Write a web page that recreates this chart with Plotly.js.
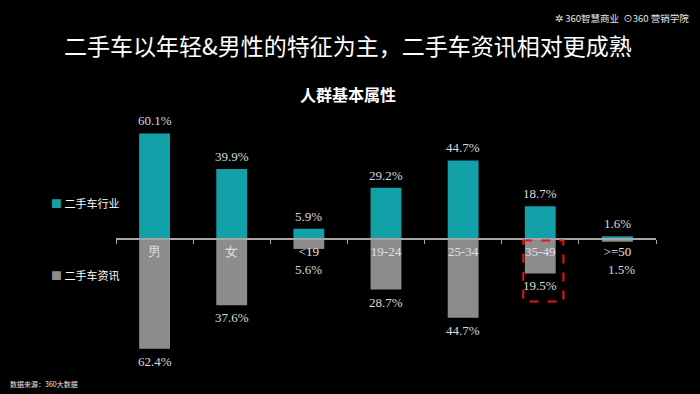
<!DOCTYPE html>
<html><head><meta charset="utf-8">
<script src="https://cdn.plot.ly/plotly-3.0.1.min.js"></script>
<style>html,body{margin:0;padding:0;background:#000;}</style>
</head><body>
<div id="chart" style="width:700px;height:394px;"></div>
<script>
const categories = ['男', '女', '<19', '19-24', '25-34', '35-49', '>=50'];
const industryValues = [60.1, 39.9, 5.9, 29.2, 44.7, 18.7, 1.6];
const infoValues = [62.4, 37.6, 5.6, 28.7, 44.7, 19.5, 1.5];
const seriesNames = ['二手车行业', '二手车资讯'];
const highlightCategory = '35-49';

const TEAL = '#12a0a9';
const GRAY = '#8c8c8c';
const SERIF = '"Liberation Serif", "DejaVu Serif", serif';
const CJK = '"Noto Sans CJK SC", "Noto Sans", sans-serif';

const yMin = -75, yMax = 70;

const traces = [
  {type: 'bar', name: seriesNames[0], x: categories, y: industryValues,
   marker: {color: TEAL}, width: 0.4, showlegend: false, hoverinfo: 'skip'},
  {type: 'bar', name: seriesNames[1], x: categories, y: infoValues.map(v => -v),
   marker: {color: GRAY}, width: 0.4, showlegend: false, hoverinfo: 'skip'}
];

const annotations = [];
categories.forEach((c, i) => {
  annotations.push({x: c, y: industryValues[i], xref: 'x', yref: 'y', text: industryValues[i].toFixed(1) + '%',
    showarrow: false, yanchor: 'bottom', yshift: 3, font: {family: SERIF, size: 13, color: '#d9d9d9'}});
  const v = infoValues[i];
  const small = v < 10;
  annotations.push({x: c, y: small ? 0 : -v, xref: 'x', yref: 'y', text: v.toFixed(1) + '%',
    showarrow: false, yanchor: 'top', yshift: small ? -21 : -3, xshift: (small && i === categories.length - 1) ? 4 : 0,
    font: {family: SERIF, size: 13, color: '#d9d9d9'}});
});

// legend-like labels
annotations.push({xref: 'paper', yref: 'paper', x: -0.125, y: 0.66, xanchor: 'left', yanchor: 'middle',
  text: '<span style="color:' + TEAL + '">■</span> ' + seriesNames[0], showarrow: false,
  font: {family: CJK, size: 11, color: '#ffffff'}});
annotations.push({xref: 'paper', yref: 'paper', x: -0.125, y: 0.375, xanchor: 'left', yanchor: 'middle',
  text: '<span style="color:' + GRAY + '">■</span> ' + seriesNames[1], showarrow: false,
  font: {family: CJK, size: 11, color: '#ffffff'}});

// headline texts
annotations.push({xref: 'paper', yref: 'paper', x: 0.43, y: 1.28, yanchor: 'middle',
  xanchor: 'center', text: '二手车以年轻&男性的特征为主，二手车资讯相对更成熟', showarrow: false,
  font: {family: CJK, size: 23, color: '#ffffff'}});
annotations.push({xref: 'paper', yref: 'paper', x: 0.43, y: 1.085, yanchor: 'middle',
  xanchor: 'center', text: '<b>人群基本属性</b>', showarrow: false,
  font: {family: CJK, size: 16, color: '#ffffff'}});
annotations.push({xref: 'paper', yref: 'paper', x: 1.065, y: 1.385, yanchor: 'middle', xanchor: 'right',
  text: '✲ 360智慧商业  ⊙360 营销学院', showarrow: false,
  font: {family: CJK, size: 9.5, color: '#e6e6e6'}});
annotations.push({xref: 'paper', yref: 'paper', x: -0.2, y: -0.05, yanchor: 'middle', xanchor: 'left',
  text: '数据来源：360大数据', showarrow: false,
  font: {family: CJK, size: 7, color: '#e6e6e6'}});

const hi = categories.indexOf(highlightCategory);

const layout = {
  width: 700, height: 394,
  paper_bgcolor: '#000000', plot_bgcolor: '#000000',
  margin: {l: 116, r: 44, t: 116, b: 23},
  barmode: 'relative',
  showlegend: false,
  xaxis: {type: 'category', categoryorder: 'array', categoryarray: categories,
    range: [-0.5, categories.length - 0.5],
    anchor: 'free', position: -yMin / (yMax - yMin),
    showline: true, linecolor: '#a6a6a6', linewidth: 2,
    ticks: 'outside', tickson: 'boundaries', ticklen: 4, tickcolor: '#a6a6a6', tickwidth: 1,
    showgrid: false, zeroline: false,
    tickfont: {family: SERIF, size: 13, color: '#e0e0e0'}},
  yaxis: {range: [yMin, yMax], visible: false, showgrid: false, zeroline: false},
  shapes: [{type: 'rect', xref: 'x', yref: 'y', x0: hi - 0.22, x1: hi + 0.3, y0: -0.8, y1: -35.5,
    line: {color: '#e8141b', width: 2, dash: 'dash'}, fillcolor: 'rgba(0,0,0,0)'}],
  annotations: annotations,
  font: {family: CJK, color: '#ffffff'}
};

Plotly.newPlot('chart', traces, layout, {displayModeBar: false, staticPlot: true});
</script>
</body></html>
